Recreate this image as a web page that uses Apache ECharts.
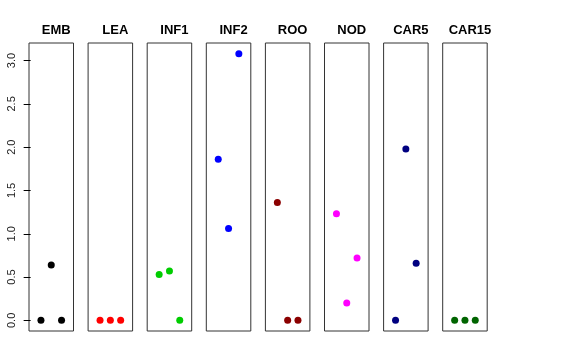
<!DOCTYPE html>
<html>
<head>
<meta charset="utf-8">
<script src="https://cdn.jsdelivr.net/npm/echarts@6/dist/echarts.min.js"></script>
<style>
html,body{margin:0;padding:0;background:#fff;}
#c{width:576px;height:360px;}
</style>
</head>
<body>
<div id="c"></div>
<script>
// Data
const panels = ["EMB", "LEA", "INF1", "INF2", "ROO", "NOD", "CAR5", "CAR15"];
const colors = ["#000000", "#FF0000", "#00CD00", "#0000FF", "#8B0000", "#FF00FF", "#000080", "#006400"];
const xPositions = [1, 2, 3];
const EMB = [0, 0.64, 0];
const LEA = [0, 0, 0];
const INF1 = [0.53, 0.57, 0];
const INF2 = [1.86, 1.06, 3.08];
const ROO = [1.36, 0, 0];
const NOD = [1.23, 0.20, 0.72];
const CAR5 = [0, 1.98, 0.66];
const CAR15 = [0, 0, 0];
const yTicks = [0, 0.5, 1.0, 1.5, 2.0, 2.5, 3.0];

const values = [EMB, LEA, INF1, INF2, ROO, NOD, CAR5, CAR15];

const left0 = 29, step = 59.1, panelW = 44.5, panelTop = 43, panelH = 288;
const yMin = -0.123, yMax = 3.203;

const grids = [], xAxes = [], yAxes = [], series = [], titles = [];
panels.forEach((name, i) => {
  const l = left0 + i * step;
  grids.push({left: l, top: panelTop, width: panelW, height: panelH, show: true, borderColor: '#333', borderWidth: 1, backgroundColor: 'transparent', containLabel: false});
  xAxes.push({type: 'value', gridIndex: i, min: -0.16, max: 4.16, show: false});
  const first = i === 0;
  yAxes.push({
    type: 'value', gridIndex: i, min: yMin, max: yMax, show: first,
    splitLine: {show: false},
    axisLine: {show: false},
    axisTick: first ? {show: true, customValues: yTicks, length: 7, inside: false, lineStyle: {color: '#000'}} : {show: false},
    axisLabel: first ? {show: true, customValues: yTicks, rotate: 90, margin: 12, color: '#222', fontSize: 11, fontFamily: 'Liberation Sans, Arial, sans-serif',
      formatter: v => Number(v).toFixed(1)} : {show: false}
  });
  series.push({
    type: 'scatter', xAxisIndex: i, yAxisIndex: i, symbol: 'circle', symbolSize: 7,
    itemStyle: {color: colors[i], opacity: 1},
    data: xPositions.map((x, k) => [x, values[i][k]]),
    silent: true, animation: false
  });
  titles.push({text: name, left: l + panelW / 2, top: 19, textAlign: 'center',
    textStyle: {fontSize: 13, fontWeight: 'bold', color: '#000', fontFamily: 'Liberation Sans, Arial, sans-serif'}});
});

const chart = echarts.init(document.getElementById('c'), null, {renderer: 'canvas'});
chart.setOption({
  animation: false,
  backgroundColor: '#fff',
  title: titles,
  grid: grids,
  xAxis: xAxes,
  yAxis: yAxes,
  series: series
});
</script>
</body>
</html>
